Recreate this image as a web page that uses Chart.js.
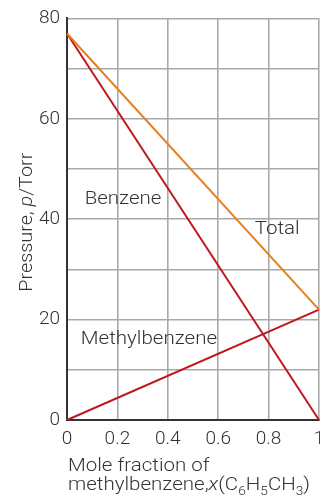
<!DOCTYPE html>
<html>
<head>
<meta charset="utf-8">
<script src="https://cdn.jsdelivr.net/npm/chart.js@4/dist/chart.umd.min.js"></script>
<style>
  html, body { margin: 0; padding: 0; background: #fff; }
  #wrap { width: 320px; height: 497px; position: relative; }
</style>
</head>
<body>
<div id="wrap"><canvas id="c" width="320" height="497"></canvas></div>
<script>
// Mole fraction of methylbenzene at the two ends of the composition range
const moleFraction = [0, 1];
// Partial and total vapour pressures (Torr)
const benzeneP = [77, 0];
const methylbenzeneP = [0, 22];
const totalP = [77, 22];

const xTicks = [0, 0.2, 0.4, 0.6, 0.8, 1];
const yTickLabels = [0, 20, 40, 60, 80];

const FONT = "Roboto, 'Liberation Sans', sans-serif";
const INK = '#333333';
const RED = '#c0161f';
const ORANGE = '#e6801f';
const WIDEN = 1.14; // horizontal stretch for the light annotation type

const toPoints = (ys) => moleFraction.map((x, i) => ({ x, y: ys[i] }));

// Curve labels placed in data coordinates
const curveLabels = [
  { text: 'Benzene', x: 0.07, y: 44 },
  { text: 'Total', x: 0.745, y: 38 },
  { text: 'Methylbenzene', x: 0.055, y: 16 }
];

// Draws a run of differently styled pieces, stretched horizontally
function drawRun(ctx, parts, x, y, sx) {
  ctx.save();
  ctx.translate(x, y);
  ctx.scale(sx, 1);
  let px = 0;
  parts.forEach(p => {
    ctx.font = p.f;
    ctx.fillText(p.t, px, p.dy || 0);
    px += ctx.measureText(p.t).width;
  });
  ctx.restore();
  return px * sx;
}
function runWidth(ctx, parts, sx) {
  let w = 0;
  parts.forEach(p => { ctx.font = p.f; w += ctx.measureText(p.t).width; });
  return w * sx;
}

const textPlugin = {
  id: 'texts',
  afterDraw(chart) {
    const { ctx, scales, chartArea } = chart;
    const xs = scales.x, ys = scales.y;
    const reg = `300 18px ${FONT}`, ital = `italic 300 18px ${FONT}`, sub = `300 12px ${FONT}`;
    ctx.save();
    ctx.fillStyle = INK;
    ctx.textBaseline = 'middle';
    ctx.textAlign = 'left';
    curveLabels.forEach(l => {
      drawRun(ctx, [{ t: l.text, f: reg }], xs.getPixelForValue(l.x), ys.getPixelForValue(l.y), WIDEN);
    });

    // y-axis title, rotated, with italic symbol
    const yTitle = [{ t: 'Pressure, ', f: reg }, { t: 'p', f: ital }, { t: '/Torr', f: reg }];
    ctx.save();
    ctx.translate(27, (chartArea.top + chartArea.bottom) / 2 + 3);
    ctx.rotate(-Math.PI / 2);
    const w = runWidth(ctx, yTitle, 1.1);
    drawRun(ctx, yTitle, -w / 2, 0, 1.1);
    ctx.restore();

    // x-axis title over two lines, with subscripts
    ctx.textBaseline = 'alphabetic';
    const left = chartArea.left + 1;
    drawRun(ctx, [{ t: 'Mole fraction of', f: reg }], left, 471, WIDEN);
    drawRun(ctx, [
      { t: 'methylbenzene,', f: reg },
      { t: 'x', f: ital },
      { t: '(C', f: reg },
      { t: '6', f: sub, dy: 5 },
      { t: 'H', f: reg },
      { t: '5', f: sub, dy: 5 },
      { t: 'CH', f: reg },
      { t: '3', f: sub, dy: 5 },
      { t: ')', f: reg }
    ], left, 490, WIDEN);
    ctx.restore();
  }
};

new Chart(document.getElementById('c'), {
  type: 'scatter',
  data: {
    datasets: [
      { label: 'Total', data: toPoints(totalP), borderColor: ORANGE },
      { label: 'Benzene', data: toPoints(benzeneP), borderColor: RED },
      { label: 'Methylbenzene', data: toPoints(methylbenzeneP), borderColor: RED }
    ].map(d => Object.assign(d, {
      showLine: true, borderWidth: 2, pointRadius: 0, pointHoverRadius: 0,
      backgroundColor: d.borderColor, clip: 4, tension: 0
    }))
  },
  options: {
    responsive: false,
    animation: false,
    events: [],
    layout: { padding: { top: 18, right: 1, left: 0, bottom: 0 } },
    plugins: { legend: { display: false }, tooltip: { enabled: false } },
    scales: {
      x: {
        type: 'linear', min: 0, max: 1,
        afterBuildTicks(s) { s.ticks = xTicks.map(v => ({ value: v })); },
        afterFit(s) { s.height = 77; s.paddingLeft = 0; s.paddingRight = 0; },
        grid: { color: '#a9a9a9', lineWidth: 1.6, drawTicks: false },
        border: { color: INK, width: 2 },
        ticks: {
          padding: 8, color: INK, maxRotation: 0, autoSkip: false,
          font: { family: FONT, size: 19, weight: 300 },
          callback: v => (v === 0 || v === 1) ? String(v) : v.toFixed(1)
        }
      },
      y: {
        type: 'linear', min: 0, max: 80,
        ticks: {
          stepSize: 10, padding: 7, color: INK,
          font: { family: FONT, size: 19, weight: 300 },
          callback: v => yTickLabels.includes(v) ? String(v) : ''
        },
        afterFit(s) { s.width = 67; },
        grid: { color: '#a9a9a9', lineWidth: 1.6, drawTicks: false },
        border: { color: INK, width: 2 }
      }
    }
  },
  plugins: [textPlugin]
});
</script>
</body>
</html>
